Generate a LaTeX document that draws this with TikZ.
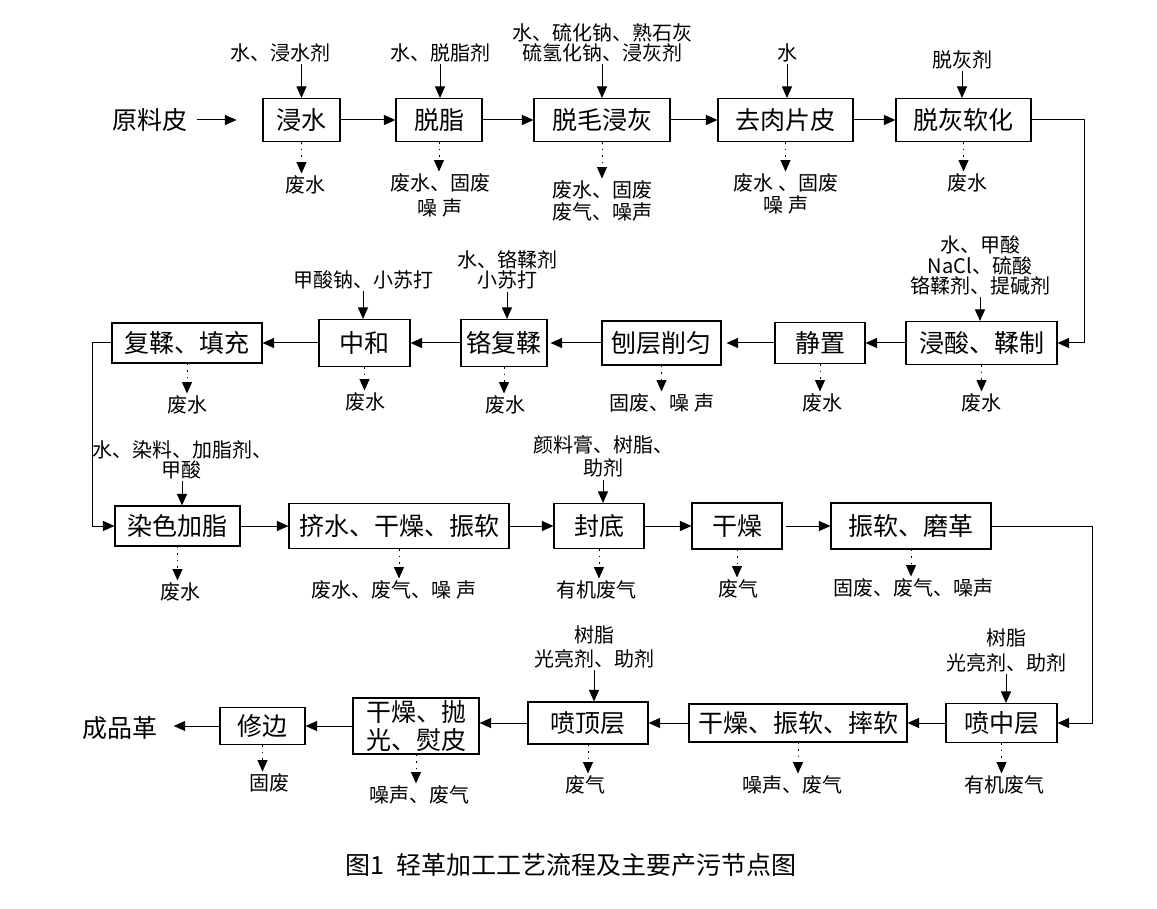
\documentclass[tikz,border=0pt]{standalone}
\usepackage{fontspec}
\setmainfont{Noto Sans CJK SC}
\usetikzlibrary{arrows.meta}

\begin{document}
\begin{tikzpicture}[x=1pt,y=-1pt]
\tikzstyle{box} = [draw,line width=1.1pt,inner sep=0pt,font=\fontsize{25}{28}\selectfont]
\tikzstyle{txt} = [inner sep=2pt,font=\fontsize{25}{28}\selectfont]
\tikzstyle{ann} = [inner sep=2pt,align=center,font=\fontsize{20}{22}\selectfont]
\tikzstyle{feed} = [line width=1pt,-{Triangle[length=11.5pt,width=10pt]}]
\tikzstyle{waste} = [feed,dash pattern=on 1.5pt off 5pt]
\useasboundingbox (0,0) rectangle (1157,909);

% row 1
\node[txt] (raw) at (150,120) {原料皮};
\node[box,minimum width=77pt,minimum height=43pt] (soak) at (301.5,120) {浸水};
\node[box,minimum width=86pt,minimum height=43pt] (degrease) at (439,120) {脱脂};
\node[box,minimum width=136pt,minimum height=43pt] (unhair) at (602,120) {脱毛浸灰};
\node[box,minimum width=135pt,minimum height=43pt] (flesh) at (785.5,120) {去肉片皮};
\node[box,minimum width=135pt,minimum height=43pt] (delime) at (963.5,120) {脱灰软化};

\node[ann] (inSoak) at (280,53) {水、浸水剂};
\node[ann] (inDegrease) at (440,53) {水、脱脂剂};
\node[ann,font=\fontsize{20}{20}\selectfont] (inUnhair) at (602,43) {水、硫化钠、熟石灰\\硫氢化钠、浸灰剂};
\node[ann] (inFlesh) at (787,53) {水};
\node[ann] (inDelime) at (962,60) {脱灰剂};

\node[ann] (outSoak) at (305,185) {废水};
\node[ann,font=\fontsize{20}{25}\selectfont] (outDegrease) at (440,195.5) {废水、固废\\噪 声};
\node[ann] (outUnhair) at (602,201) {废水、固废\\废气、噪声};
\node[ann] (outFlesh) at (786,194) {废水 、固废\\噪 声};
\node[ann] (outDelime) at (967,183) {废水};

\draw[feed,shorten <=7pt,shorten >=26pt] (raw.east) -- (raw.east -| soak.west);
\draw[feed] (soak.east) -- (soak.east -| degrease.west);
\draw[feed] (degrease.east) -- (degrease.east -| unhair.west);
\draw[feed] (unhair.east) -- (unhair.east -| flesh.west);
\draw[feed] (flesh.east) -- (flesh.east -| delime.west);

\draw[feed] (soak.north |- inSoak.south) -- (soak.north);
\draw[feed] (inDegrease.south) -- (inDegrease.south |- degrease.north);
\draw[feed] (inUnhair.south) -- (inUnhair.south |- unhair.north);
\draw[feed] (inFlesh.south) -- (inFlesh.south |- flesh.north);
\draw[feed] (inDelime.south) -- (inDelime.south |- delime.north);

\draw[waste] (soak.south) -- (soak.south |- outSoak.north);
\draw[waste] (degrease.south) -- (degrease.south |- outDegrease.north);
\draw[waste] (unhair.south) -- (unhair.south |- outUnhair.north);
\draw[waste] (flesh.south) -- (flesh.south |- outFlesh.north);
\draw[waste] (delime.south) -- (delime.south |- outDelime.north);

% row 2
\node[box,minimum width=151pt,minimum height=43pt] (pickle) at (981.5,343) {浸酸、鞣制};
\node[box,minimum width=90pt,minimum height=41pt] (rest) at (820,343) {静置};
\node[box,minimum width=119pt,minimum height=44pt] (shave) at (661.5,343) {刨层削匀};
\node[box,minimum width=86pt,minimum height=47pt] (retan) at (504,343) {铬复鞣};
\node[box,minimum width=91pt,minimum height=47pt] (neutral) at (364.5,343) {中和};
\node[box,minimum width=150pt,minimum height=40pt] (fill) at (187,343) {复鞣、填充};

\node[ann,font=\fontsize{20}{20.5}\selectfont] (inPickle) at (980,265.5) {水、甲酸\\NaCl、硫酸\\铬鞣剂、提碱剂};
\node[ann] (inNeutral) at (363,280) {甲酸钠、小苏打};
\node[ann,font=\fontsize{20}{20}\selectfont] (inRetan) at (507,270) {水、铬鞣剂\\小苏打};

\node[ann] (outPickle) at (981,403) {废水};
\node[ann] (outRest) at (822,403) {废水};
\node[ann] (outShave) at (662,403) {固废、噪 声};
\node[ann] (outRetan) at (505,405) {废水};
\node[ann] (outNeutral) at (365,402) {废水};
\node[ann] (outFill) at (187,405) {废水};

\coordinate (rightA) at (1084,0);
\draw[feed] (delime.east) -- (delime.east -| rightA) |- (pickle.east);
\draw[feed] (pickle.west) -- (pickle.west -| rest.east);
\draw[feed,shorten >=5pt] (rest.west) -- (rest.west -| shave.east);
\draw[feed,shorten >=3pt] (shave.west) -- (shave.west -| retan.east);
\draw[feed] (retan.west) -- (retan.west -| neutral.east);
\draw[feed] (neutral.west) -- (neutral.west -| fill.east);

\draw[feed] (inPickle.south) -- (inPickle.south |- pickle.north);
\draw[feed] (inNeutral.south) -- (inNeutral.south |- neutral.north);
\draw[feed] (inRetan.south) -- (inRetan.south |- retan.north);

\draw[waste] (pickle.south) -- (pickle.south |- outPickle.north);
\draw[waste] (rest.south) -- (rest.south |- outRest.north);
\draw[waste] (shave.south) -- (shave.south |- outShave.north);
\draw[waste] (retan.south) -- (retan.south |- outRetan.north);
\draw[waste] (neutral.south) -- (neutral.south |- outNeutral.north);
\draw[waste] (fill.south) -- (fill.south |- outFill.north);

% row 3
\node[box,minimum width=125pt,minimum height=40pt] (dye) at (177.5,526) {染色加脂};
\node[box,minimum width=220pt,minimum height=45pt] (squeeze) at (399,526) {挤水、干燥、振软};
\node[box,minimum width=90pt,minimum height=45pt] (seal) at (599,526) {封底};
\node[box,minimum width=90pt,minimum height=46pt] (dry) at (737,526) {干燥};
\node[box,minimum width=160pt,minimum height=46pt] (buff) at (911,526) {振软、磨革};

\node[ann,font=\fontsize{20}{20}\selectfont] (inDye) at (182,460) {水、染料、加脂剂、\\甲酸};
\node[ann,font=\fontsize{20}{23}\selectfont] (inSeal) at (603,456.5) {颜料膏、树脂、\\助剂};

\node[ann] (outDye) at (180,592) {废水};
\node[ann] (outSqueeze) at (394,590) {废水、废气、噪 声};
\node[ann] (outSeal) at (596,590) {有机废气};
\node[ann] (outDry) at (738,589) {废气};
\node[ann] (outBuff) at (913,588) {固废、废气、噪声};

\coordinate (leftA) at (92.5,0);
\draw[feed] (fill.west) -- (fill.west -| leftA) |- (dye.west);
\draw[feed] (dye.east) -- (dye.east -| squeeze.west);
\draw[feed] (squeeze.east) -- (squeeze.east -| seal.west);
\draw[feed] (seal.east) -- (seal.east -| dry.west);
\draw[feed,shorten <=3pt] (dry.east) -- (dry.east -| buff.west);

\draw[feed] (inDye.south) -- (inDye.south |- dye.north);
\draw[feed] (inSeal.south) -- (inSeal.south |- seal.north);

\draw[waste] (dye.south) -- (dye.south |- outDye.north);
\draw[waste] (squeeze.south) -- (squeeze.south |- outSqueeze.north);
\draw[waste] (seal.south) -- (seal.south |- outSeal.north);
\draw[waste] (dry.south) -- (dry.south |- outDry.north);
\draw[waste] (buff.south) -- (buff.south |- outBuff.north);

% row 4
\node[box,minimum width=111pt,minimum height=39pt] (midcoat) at (1001.5,723) {喷中层};
\node[box,minimum width=218pt,minimum height=38pt] (tumble) at (798,723) {干燥、振软、摔软};
\node[box,minimum width=120pt,minimum height=42pt] (topcoat) at (588,723) {喷顶层};
\node[box,minimum width=126pt,minimum height=56pt,inner ysep=1pt,align=center] (iron) at (416,726) {干燥、抛\\光、熨皮};
\node[box,minimum width=85pt,minimum height=37pt] (trim) at (262.5,726) {修边};
\node[txt] (product) at (120,728) {成品革};

\node[ann,font=\fontsize{20}{25}\selectfont] (inMid) at (1006,650) {树脂\\光亮剂、助剂};
\node[ann,font=\fontsize{20}{24}\selectfont] (inTop) at (594,647) {树脂\\光亮剂、助剂};

\node[ann] (outMid) at (1004,785) {有机废气};
\node[ann] (outTumble) at (792,785) {噪声、废气};
\node[ann] (outTop) at (585,785) {废气};
\node[ann] (outIron) at (419,795) {噪声、废气};
\node[ann] (outTrim) at (269,783) {固废};

\coordinate (rightB) at (1092,0);
\draw[feed] (buff.east) -- (buff.east -| rightB) |- (midcoat.east);
\draw[feed] (midcoat.west) -- (midcoat.west -| tumble.east);
\draw[feed] (tumble.west) -- (tumble.west -| topcoat.east);
\draw[feed] (topcoat.west) -- (topcoat.west -| iron.east);
\draw[feed] (iron.west) -- (iron.west -| trim.east);
\draw[feed,shorten >=14pt] (trim.west) -- (trim.west -| product.east);

\draw[feed] (inMid.south) -- (inMid.south |- midcoat.north);
\draw[feed] (inTop.south) -- (inTop.south |- topcoat.north);

\draw[waste] (midcoat.south) -- (midcoat.south |- outMid.north);
\draw[waste] (tumble.south) -- (tumble.south |- outTumble.north);
\draw[waste] (topcoat.south) -- (topcoat.south |- outTop.north);
\draw[waste] (iron.south) -- (iron.south |- outIron.north);
\draw[waste] (trim.south) -- (trim.south |- outTrim.north);

% caption
\node[txt] (caption) at (571,865) {图1\hspace{12pt}轻革加工工艺流程及主要产污节点图};
\end{tikzpicture}
\end{document}
